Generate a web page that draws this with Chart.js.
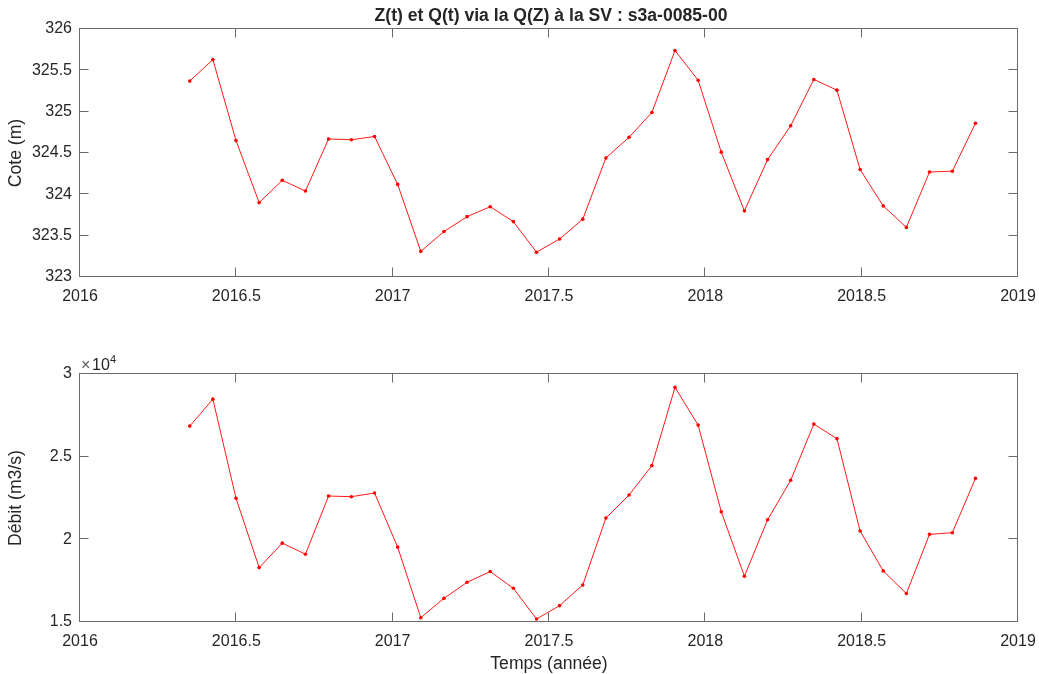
<!DOCTYPE html>
<html>
<head>
<meta charset="utf-8">
<script src="https://cdn.jsdelivr.net/npm/chart.js@4"></script>
<style>
  body { margin: 0; background: #fff; }
  #page { position: relative; width: 1039px; height: 674px; }
  .panel { position: absolute; left: 0; width: 1039px; height: 337px; }
</style>
</head>
<body>
<div id="page">
  <div class="panel" style="top:0"><canvas id="coteChart"></canvas></div>
  <div class="panel" style="top:337px"><canvas id="debitChart"></canvas></div>
</div>
<script>
// dates des passages (année décimale, cycle de 27 jours)
const annees = [2016.351, 2016.425, 2016.499, 2016.573, 2016.647, 2016.721, 2016.795, 2016.868,
  2016.942, 2017.016, 2017.090, 2017.164, 2017.238, 2017.312, 2017.386, 2017.460, 2017.534,
  2017.608, 2017.682, 2017.756, 2017.829, 2017.903, 2017.977, 2018.051, 2018.125, 2018.199,
  2018.273, 2018.347, 2018.421, 2018.495, 2018.569, 2018.643, 2018.717, 2018.790, 2018.864];

// cote Z(t) en m
const cote = [325.37, 325.63, 324.65, 323.90, 324.17, 324.04, 324.67, 324.66, 324.70, 324.12,
  323.31, 323.55, 323.73, 323.85, 323.67, 323.30, 323.46, 323.70, 324.44, 324.69, 324.99,
  325.74, 325.38, 324.51, 323.80, 324.42, 324.83, 325.39, 325.26, 324.30, 323.86, 323.60,
  324.27, 324.28, 324.86];

// débit Q(t) en m3/s
const debit = [26850, 28480, 22480, 18290, 19770, 19100, 22620, 22580, 22800, 19530, 15260,
  16430, 17400, 18050, 17040, 15180, 15990, 17240, 21290, 22680, 24460, 29190, 26910, 21670,
  17770, 21180, 23570, 26970, 26090, 20500, 18090, 16720, 20300, 20400, 23690];

const ticksAnnee = [2016, 2016.5, 2017, 2017.5, 2018, 2018.5, 2019];
const ticksCote = [323, 323.5, 324, 324.5, 325, 325.5, 326];
const ticksDebit = [15000, 20000, 25000, 30000];

const police = "'Liberation Sans', Arial, Helvetica, sans-serif";
const gris = '#262626';
const TICK = 9;

// cadre + graduations vers l'intérieur sur les 4 côtés, textes annexes
const cadreMatlab = {
  id: 'cadreMatlab',
  afterDraw(chart, args, opts) {
    const { ctx, chartArea: a, scales } = chart;
    const L = Math.round(a.left) - 0.5, R = Math.round(a.right) - 0.5;
    const T = Math.round(a.top) - 0.5, B = Math.round(a.bottom) - 0.5;
    ctx.save();
    ctx.strokeStyle = '#6b6b6b';
    ctx.lineWidth = 1;
    ctx.strokeRect(L, T, R - L, B - T);
    ctx.beginPath();
    ticksAnnee.forEach(v => {
      const x = Math.round(scales.x.getPixelForValue(v)) - 0.5;
      ctx.moveTo(x, B); ctx.lineTo(x, B - TICK);
      ctx.moveTo(x, T); ctx.lineTo(x, T + TICK);
    });
    opts.yTicks.forEach(v => {
      const y = Math.round(scales.y.getPixelForValue(v)) - 0.5;
      ctx.moveTo(L, y); ctx.lineTo(L + TICK, y);
      ctx.moveTo(R, y); ctx.lineTo(R - TICK, y);
    });
    ctx.stroke();

    ctx.fillStyle = gris;
    ctx.textAlign = 'center';
    ctx.textBaseline = 'middle';
    // titre de l'axe y
    ctx.save();
    ctx.translate(16, (a.top + a.bottom) / 2);
    ctx.rotate(-Math.PI / 2);
    ctx.font = '17.6px ' + police;
    ctx.fillText(opts.yLabel, 0, 0);
    ctx.restore();

    if (opts.titre) {
      ctx.font = 'bold 17.6px ' + police;
      ctx.fillText(opts.titre, (a.left + a.right) / 2 + 2, 16);
    }
    if (opts.xLabel) {
      ctx.font = '17.6px ' + police;
      ctx.fillText(opts.xLabel, (a.left + a.right) / 2, a.bottom + 42);
    }
    if (opts.exposant) {
      ctx.textAlign = 'left';
      ctx.textBaseline = 'alphabetic';
      ctx.fillStyle = '#595959';
      ctx.font = '16px ' + police;
      ctx.fillText('\u00d7', a.left + 1, a.top - 4);
      ctx.fillStyle = gris;
      ctx.fillText('10', a.left + 12, a.top - 4);
      ctx.font = '11px ' + police;
      ctx.fillText('4', a.left + 30, a.top - 11);
    }
    ctx.restore();
  }
};

function tracer(id, valeurs, yMin, yMax, yTicks, fmt, marges, hauteurX, extra) {
  return new Chart(document.getElementById(id), {
    type: 'line',
    data: {
      datasets: [{
        data: annees.map((t, i) => ({ x: t, y: valeurs[i] })),
        borderColor: 'rgba(255,0,0,0.9)',
        backgroundColor: 'rgb(255,0,0)',
        borderWidth: 1,
        pointRadius: 1.8,
        pointBorderWidth: 0,
        tension: 0
      }]
    },
    options: {
      responsive: true,
      maintainAspectRatio: false,
      animation: false,
      events: [],
      layout: { padding: marges },
      plugins: {
        legend: { display: false },
        tooltip: { enabled: false },
        cadreMatlab: Object.assign({ yTicks: yTicks }, extra)
      },
      scales: {
        x: {
          type: 'linear',
          min: 2016, max: 2019,
          afterBuildTicks: s => { s.ticks = ticksAnnee.map(v => ({ value: v })); },
          afterFit: s => { s.height = hauteurX; s.paddingLeft = 0; s.paddingRight = 0; },
          grid: { display: false, drawTicks: false },
          border: { display: false },
          ticks: {
            padding: 10, color: gris, maxRotation: 0, autoSkip: false,
            font: { family: police, size: 16 },
            callback: v => String(v)
          }
        },
        y: {
          type: 'linear',
          min: yMin, max: yMax,
          afterBuildTicks: s => { s.ticks = yTicks.map(v => ({ value: v })); },
          afterFit: s => { s.width = 80; s.paddingTop = 0; s.paddingBottom = 0; },
          grid: { display: false, drawTicks: false },
          border: { display: false },
          ticks: {
            padding: 8, color: gris, autoSkip: false,
            font: { family: police, size: 16 },
            callback: fmt
          }
        }
      }
    },
    plugins: [cadreMatlab]
  });
}

tracer('coteChart', cote, 323, 326, ticksCote, v => String(v),
  { top: 29, right: 21, left: 0, bottom: 0 }, 60,
  { yLabel: 'Cote (m)', titre: 'Z(t) et Q(t) via la Q(Z) \u00e0 la SV : s3a-0085-00' });

tracer('debitChart', debit, 15000, 30000, ticksDebit, v => String(v / 10000),
  { top: 37, right: 21, left: 0, bottom: 0 }, 52,
  { yLabel: 'D\u00e9bit (m3/s)', xLabel: 'Temps (ann\u00e9e)', exposant: true });
</script>
</body>
</html>
